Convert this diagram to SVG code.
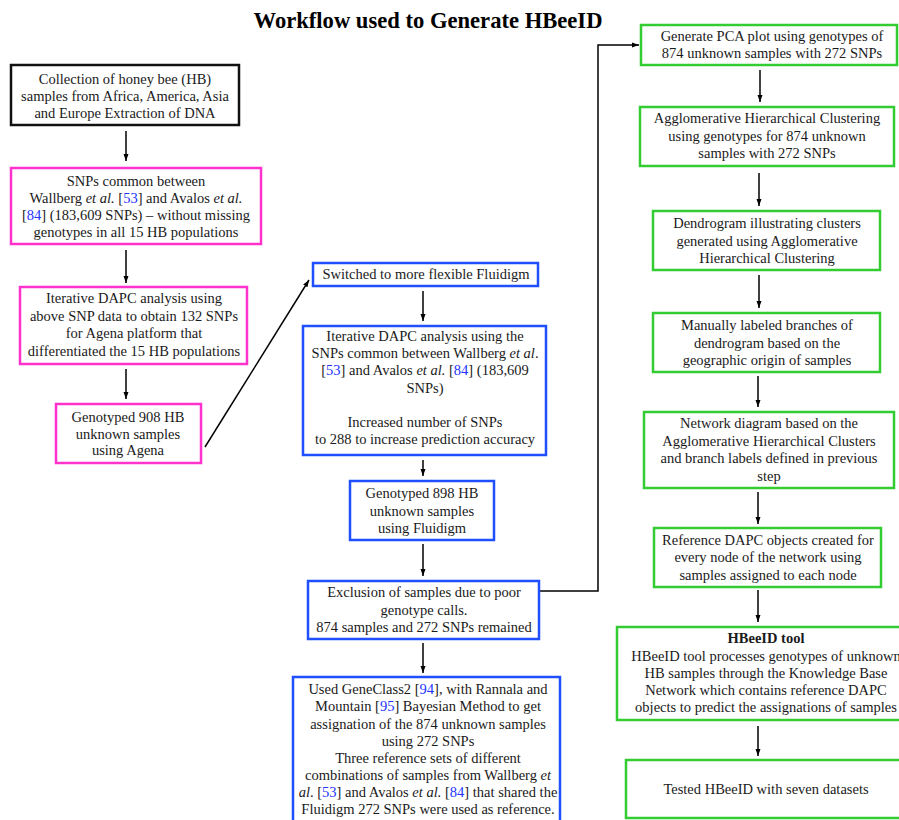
<svg xmlns="http://www.w3.org/2000/svg" width="899" height="820" viewBox="0 0 899 820">
<defs>
<marker id="ah" markerUnits="userSpaceOnUse" markerWidth="8" markerHeight="6" refX="7" refY="3" orient="auto"><path d="M0,0.5 L7,3 L0,5.5 z" fill="#000"/></marker>
<style>
text{font-family:"Liberation Serif","Times New Roman",serif;font-size:14.5px;fill:#1a1a1a;text-anchor:middle}
.title{font-size:22.6px;font-weight:bold;fill:#000}
.b{fill:#fff;stroke-width:2.5}
.k{stroke:#111}
.m{stroke:#ff33cc}
.u{stroke:#1f4fff}
.g{stroke:#33cc33}
.i{font-style:italic}
.r{fill:#2233ff}
.c{fill:none;stroke:#000;stroke-width:1.5;marker-end:url(#ah)}
.bold{font-weight:bold}
</style>
</defs>
<rect width="899" height="820" fill="#fff"/>
<text class="title" x="428" y="28">Workflow used to Generate HBeeID</text>

<g id="connectors">
<line class="c" x1="126" y1="131" x2="126" y2="161"/>
<line class="c" x1="126" y1="250" x2="126" y2="283"/>
<line class="c" x1="126" y1="369" x2="126" y2="399"/>
<line class="c" x1="205" y1="447" x2="309" y2="280"/>
<line class="c" x1="423" y1="291" x2="423" y2="321"/>
<line class="c" x1="423" y1="460" x2="423" y2="476"/>
<line class="c" x1="423" y1="544" x2="423" y2="576"/>
<polyline class="c" points="540,591 598,591 598,45 639,45"/>
<line class="c" x1="423" y1="643" x2="423" y2="673"/>
<line class="c" x1="760" y1="70" x2="760" y2="102"/>
<line class="c" x1="759" y1="173" x2="759" y2="206"/>
<line class="c" x1="759" y1="275" x2="759" y2="308"/>
<line class="c" x1="758" y1="376" x2="758" y2="407"/>
<line class="c" x1="758" y1="492" x2="758" y2="524"/>
<line class="c" x1="758" y1="590" x2="758" y2="622"/>
<line class="c" x1="758" y1="726" x2="758" y2="756"/>
</g>

<g id="n1">
<rect class="b k" x="11" y="65" width="228" height="60"/>
<text x="125" y="84">Collection of honey bee (HB)</text>
<text x="125" y="101">samples from Africa, America, Asia</text>
<text x="125" y="118">and Europe Extraction of DNA</text>
</g>
<g id="n2">
<rect class="b m" x="11" y="168" width="250" height="76"/>
<text x="136" y="186">SNPs common between</text>
<text x="136" y="203">Wallberg <tspan class="i">et al.</tspan> [<tspan class="r">53</tspan>] and Avalos <tspan class="i">et al.</tspan></text>
<text x="136" y="220">[<tspan class="r">84</tspan>] (183,609 SNPs) – without missing</text>
<text x="136" y="237">genotypes in all 15 HB populations</text>
</g>
<g id="n3">
<rect class="b m" x="20" y="287" width="227" height="77"/>
<text x="134" y="303">Iterative DAPC analysis using</text>
<text x="134" y="320.5">above SNP data to obtain 132 SNPs</text>
<text x="134" y="338">for Agena platform that</text>
<text x="134" y="355.5">differentiated the 15 HB populations</text>
</g>
<g id="n4">
<rect class="b m" x="56" y="404" width="145" height="59"/>
<text x="128" y="422">Genotyped 908 HB</text>
<text x="128" y="438.5">unknown samples</text>
<text x="128" y="455">using Agena</text>
</g>

<g id="n5">
<rect class="b u" x="313" y="263" width="225" height="23"/>
<text x="426" y="279">Switched to more flexible Fluidigm</text>
</g>
<g id="n6">
<rect class="b u" x="303" y="326" width="243" height="129"/>
<text x="425" y="341">Iterative DAPC analysis using the</text>
<text x="425" y="358">SNPs common between Wallberg <tspan class="i">et al</tspan>.</text>
<text x="425" y="375">[<tspan class="r">53</tspan>] and Avalos <tspan class="i">et al.</tspan> [<tspan class="r">84</tspan>] (183,609</text>
<text x="425" y="392.5">SNPs)</text>
<text x="425" y="427">Increased number of SNPs</text>
<text x="425" y="444">to 288 to increase prediction accuracy</text>
</g>
<g id="n7">
<rect class="b u" x="350" y="481" width="144" height="59"/>
<text x="422" y="498">Genotyped 898 HB</text>
<text x="422" y="515.5">unknown  samples</text>
<text x="422" y="533">using Fluidigm</text>
</g>
<g id="n8">
<rect class="b u" x="308" y="581" width="231" height="58"/>
<text x="424" y="597">Exclusion of samples due to poor</text>
<text x="424" y="614.5">genotype calls.</text>
<text x="424" y="632">874 samples and 272 SNPs remained</text>
</g>
<g id="n9">
<rect class="b u" x="293" y="677" width="267" height="160"/>
<text x="428" y="694">Used GeneClass2 [<tspan class="r">94</tspan>], with Rannala and</text>
<text x="428" y="711">Mountain [<tspan class="r">95</tspan>] Bayesian Method to get</text>
<text x="428" y="728.5">assignation of the 874 unknown samples</text>
<text x="428" y="746">using 272 SNPs</text>
<text x="428" y="763">Three reference sets of different</text>
<text x="428" y="780">combinations of samples from Wallberg <tspan class="i">et</tspan></text>
<text x="428" y="797"><tspan class="i">al</tspan>. [<tspan class="r">53</tspan>] and Avalos <tspan class="i">et al.</tspan> [<tspan class="r">84</tspan>] that shared the</text>
<text x="428" y="814">Fluidigm 272 SNPs were used as reference.</text>
</g>

<g id="n10">
<rect class="b g" x="641" y="25" width="256" height="40"/>
<text x="772" y="41">Generate PCA plot using genotypes of</text>
<text x="772" y="58">874 unknown samples with 272 SNPs</text>
</g>
<g id="n11">
<rect class="b g" x="640" y="107" width="254" height="59"/>
<text x="767" y="123">Agglomerative Hierarchical Clustering</text>
<text x="767" y="141">using genotypes for 874 unknown</text>
<text x="767" y="158">samples with 272 SNPs</text>
</g>
<g id="n12">
<rect class="b g" x="653" y="211" width="227" height="59"/>
<text x="767" y="228">Dendrogram illustrating clusters</text>
<text x="767" y="246">generated using Agglomerative</text>
<text x="767" y="263">Hierarchical Clustering</text>
</g>
<g id="n13">
<rect class="b g" x="653" y="313" width="227" height="59"/>
<text x="767" y="330">Manually labeled branches of</text>
<text x="767" y="347.5">dendrogram based on the</text>
<text x="767" y="365">geographic origin of samples</text>
</g>
<g id="n14">
<rect class="b g" x="644" y="412" width="250" height="76"/>
<text x="769" y="428">Network diagram based on the</text>
<text x="769" y="446">Agglomerative Hierarchical Clusters</text>
<text x="769" y="463">and branch labels defined in previous</text>
<text x="769" y="481">step</text>
</g>
<g id="n15">
<rect class="b g" x="654" y="528" width="227" height="59"/>
<text x="768" y="545">Reference DAPC objects created for</text>
<text x="768" y="562">every node of the network using</text>
<text x="768" y="579.5">samples assigned to each node</text>
</g>
<g id="n16">
<rect class="b g" x="617" y="627" width="298" height="93"/>
<text class="bold" x="766" y="643">HBeeID tool</text>
<text x="766" y="661">HBeeID tool processes genotypes of unknown</text>
<text x="766" y="678">HB samples through the Knowledge Base</text>
<text x="766" y="695">Network which contains reference DAPC</text>
<text x="766" y="712">objects to predict the assignations of samples</text>
</g>
<g id="n17">
<rect class="b g" x="626" y="760" width="280" height="58"/>
<text x="766" y="794">Tested HBeeID with seven datasets</text>
</g>
</svg>
